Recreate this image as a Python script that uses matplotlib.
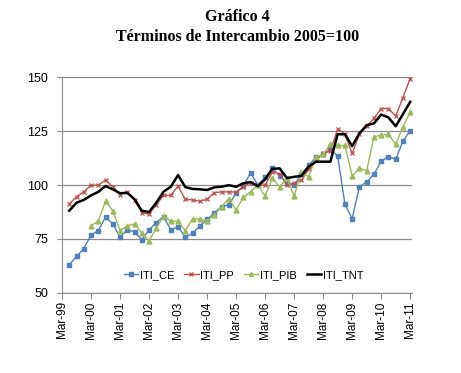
import numpy as np
import matplotlib
matplotlib.use('Agg')
import matplotlib.pyplot as plt

# quarterly index, Jun-99 .. Mar-11 (position 0 = Mar-99)
tick_labels = ['Mar-99', 'Mar-00', 'Mar-01', 'Mar-02', 'Mar-03', 'Mar-04', 'Mar-05',
               'Mar-06', 'Mar-07', 'Mar-08', 'Mar-09', 'Mar-10', 'Mar-11']

iti_ce = [63.1, 66.9, 70.6, 76.8, 78.9, 85.1, 82.0, 75.9, 79.2, 78.3, 74.6, 79.2,
          82.6, 85.4, 79.2, 80.7, 75.8, 77.7, 81.0, 84.1, 86.9, 90.0, 90.9, 96.2,
          99.5, 105.7, 100.0, 103.6, 107.7, 104.2, 101.0, 100.0, 105.1, 109.1, 112.8, 114.2,
          116.5, 113.5, 91.1, 84.4, 99.2, 101.5, 104.9, 111.1, 113.1, 111.9, 120.3, 125.1]

iti_pp = [91.2, 94.6, 96.8, 99.9, 99.9, 102.3, 99.2, 95.5, 96.8, 93.1, 87.2, 86.6,
          90.9, 95.2, 95.2, 99.5, 93.3, 93.1, 92.5, 93.4, 96.5, 96.8, 96.8, 96.8,
          99.2, 101.0, 99.9, 99.9, 106.0, 105.1, 99.9, 101.0, 102.3, 107.2, 111.5, 114.6,
          115.8, 126.0, 123.5, 114.6, 123.5, 127.2, 130.8, 135.4, 135.4, 131.9, 140.5, 149.3]

iti_pib = [None, None, None, 81.2, 83.2, 92.5, 88.1, 78.9, 81.0, 82.0, 77.7, 74.1,
           80.0, 85.7, 83.2, 83.2, 78.9, 84.3, 84.2, 83.5, 86.0, 90.0, 93.7, 88.5,
           94.3, 96.9, 100.0, 94.9, 103.1, 99.2, 103.1, 94.9, 105.9, 103.8, 112.8, 114.2,
           118.8, 118.3, 118.3, 104.2, 107.8, 106.6, 122.3, 123.1, 123.5, 118.9, 126.9, 133.8]

iti_tnt = [88.1, 91.8, 93.1, 95.2, 96.8, 99.5, 98.0, 96.2, 96.4, 93.4, 88.1, 87.5,
           91.8, 96.9, 99.2, 104.6, 99.0, 98.2, 98.0, 97.7, 98.9, 99.2, 99.9, 99.2,
           100.8, 101.4, 99.5, 102.6, 107.5, 107.7, 103.2, 103.8, 104.2, 108.5, 110.8, 110.8,
           110.8, 123.5, 123.5, 118.0, 123.9, 127.7, 128.5, 132.6, 131.3, 127.2, 132.8, 138.5]

x = np.arange(1, len(iti_ce) + 1)
pib = np.array([np.nan if v is None else v for v in iti_pib], dtype=float)

fig = plt.figure(figsize=(4.61, 3.73), dpi=100)
ax = fig.add_axes([0.1345, 0.2145, 0.76, 0.579])

ax.plot(x, iti_ce, color='#4F81BD', lw=1.0, marker='s', ms=3, label='ITI_CE')
ax.plot(x, iti_pp, color='#C0504D', lw=1.0, marker='x', ms=3.5, mew=0.9, label='ITI_PP')
ax.plot(x, pib, color='#9BBB59', lw=1.0, marker='^', ms=3.5, label='ITI_PIB')
ax.plot(x, iti_tnt, color='black', lw=1.8, label='ITI_TNT')

ax.set_ylim(50, 150)
ax.set_yticks([50, 75, 100, 125, 150])
ax.set_xlim(0, 48.3)
ax.set_xticks(np.arange(0, 49, 4))
ax.set_xticklabels(tick_labels, rotation=90, fontsize=8.5, family='Liberation Sans')
for lab in ax.get_yticklabels():
    lab.set_family('Liberation Sans')
    lab.set_fontsize(9)

ax.grid(axis='y', color='#8c8c8c', lw=0.9)
ax.set_axisbelow(True)
for s in ['top', 'right']:
    ax.spines[s].set_visible(False)
for s in ['left', 'bottom']:
    ax.spines[s].set_color('#8c8c8c')
ax.tick_params(axis='x', length=4, color='#8c8c8c', pad=2)
ax.tick_params(axis='y', length=3.5, color='#8c8c8c', pad=6.5)

ax.legend(loc='center', bbox_to_anchor=(0.518, 0.083), ncol=4, frameon=False,
          prop={'family': 'Liberation Sans', 'size': 8}, handlelength=1.3,
          columnspacing=0.9, handletextpad=0.15, markerscale=0.8)

fig.text(0.515, 0.955, 'Gráfico 4', ha='center', va='center', fontsize=11.5,
         fontweight='bold', family='Liberation Serif')
fig.text(0.515, 0.9, 'Términos de Intercambio 2005=100', ha='center', va='center',
         fontsize=11.5, fontweight='bold', family='Liberation Serif')

fig.savefig('out.png', dpi=100)
